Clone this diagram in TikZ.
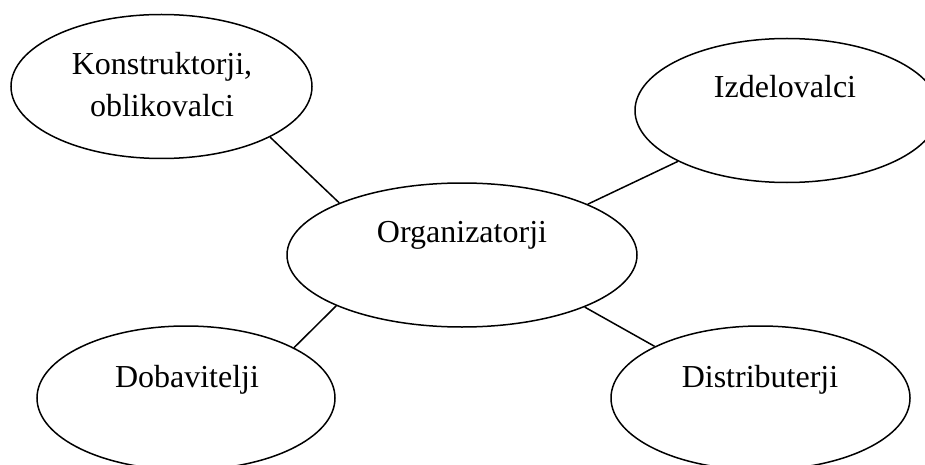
\documentclass[tikz,border=0pt]{standalone}
\usepackage{fontspec}
\setmainfont{Liberation Serif}
\usetikzlibrary{shapes.geometric}
\begin{document}
\begin{tikzpicture}[x=1pt,y=-1pt,
  bubble/.style={draw, ellipse, line width=1.5pt, inner sep=0pt, minimum height=144pt},
  txt/.style={inner sep=0pt, anchor=base, font=\fontsize{32}{42}\selectfont, align=center},
  link/.style={line width=1.5pt}]
\useasboundingbox (0,0) rectangle (925,465);
\clip (0,0) rectangle (925,465);
\node[bubble, minimum width=301pt] (k) at (161.5,86.5) {};
\node[bubble, minimum width=304pt] (iz) at (787,110.5) {};
\node[bubble, minimum width=350pt] (org) at (462,255) {};
\node[bubble, minimum width=298pt] (dob) at (186,398) {};
\node[bubble, minimum width=299pt] (dis) at (760.5,398) {};
\node[txt] (kt1) at (162,75) {Konstruktorji,};
\node[txt] (kt2) at (162,117) {oblikovalci};
\node[txt] (izt) at (785,98) {Izdelovalci};
\node[txt] (orgt) at (462,242) {Organizatorji};
\node[txt] (dobt) at (187,387) {Dobavitelji};
\node[txt] (dist) at (760,387) {Distributerji};
\draw[link] (k.-25.4) -- (org.157.4);
\draw[link] (iz.205.7) -- (org.22.9);
\draw[link] (dob.25.5) -- (org.202.8);
\draw[link] (dis.154.5) -- (org.337.1);
\end{tikzpicture}
\end{document}
